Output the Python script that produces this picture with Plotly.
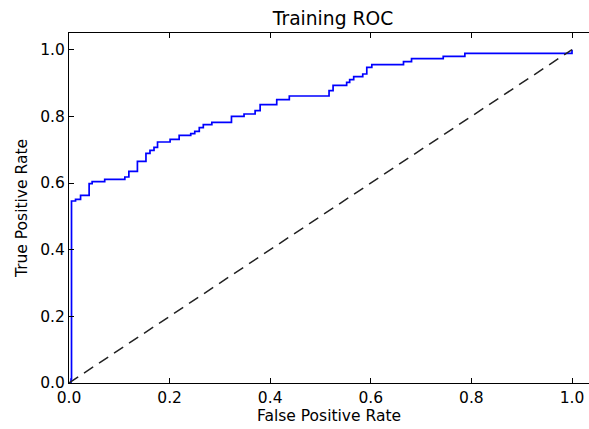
import plotly.graph_objects as go

# ROC curve (step points)
fpr = [0.0, 0.004, 0.005, 0.013, 0.023, 0.040, 0.046, 0.071, 0.111, 0.119, 0.136,
       0.153, 0.161, 0.169, 0.176, 0.201, 0.219, 0.242, 0.250, 0.259, 0.267,
       0.284, 0.323, 0.348, 0.370, 0.380, 0.413, 0.438, 0.517, 0.525, 0.552,
       0.558, 0.566, 0.584, 0.592, 0.602, 0.665, 0.681, 0.744, 0.787, 1.0]
tpr = [0.0, 0.012, 0.546, 0.551, 0.563, 0.598, 0.604, 0.611, 0.618, 0.635, 0.665,
       0.689, 0.698, 0.707, 0.723, 0.731, 0.743, 0.748, 0.755, 0.766, 0.775,
       0.782, 0.800, 0.807, 0.817, 0.835, 0.850, 0.861, 0.877, 0.893, 0.902,
       0.910, 0.919, 0.927, 0.947, 0.955, 0.964, 0.973, 0.980, 0.989, 1.0]

chance_x = [0.0, 1.0]
chance_y = [0.0, 1.0]

tick_vals = [0.0, 0.2, 0.4, 0.6, 0.8, 1.0]
tick_text = ["0.0", "0.2", "0.4", "0.6", "0.8", "1.0"]

W, H = 589, 429
L, T, B = 69, 33, 46

fig = go.Figure()
fig.add_trace(go.Scatter(x=fpr, y=tpr, mode="lines", line_shape="hv",
                         line=dict(color="#0000ff", width=1.7), showlegend=False))
fig.add_trace(go.Scatter(x=chance_x, y=chance_y, mode="lines",
                         line=dict(color="#222222", width=1.5, dash="11px,7px"),
                         showlegend=False))

font = "DejaVu Sans"
fig.update_layout(
    width=W, height=H,
    margin=dict(l=L, r=0, t=T, b=B, autoexpand=False),
    paper_bgcolor="white", plot_bgcolor="white",
    font=dict(family=font, size=15.5, color="black"),
    title=dict(text="Training ROC", x=333 / W, xanchor="center", xref="container",
               y=1 - 18 / H, yanchor="middle", yref="container", automargin=False,
               font=dict(family=font, size=18.7, color="black")),
)

fig.update_xaxes(range=[0, (W - L) / 503.0], tickvals=tick_vals, ticktext=tick_text,
                 ticks="inside", ticklen=5, tickwidth=1, tickcolor="black",
                 showline=True, linecolor="black", linewidth=1.2, mirror="allticks",
                 showgrid=False, zeroline=False, automargin=False,
                 title=dict(text="False Positive Rate", standoff=2,
                            font=dict(family=font, size=15.5)))
fig.update_yaxes(range=[0, 1.05], tickvals=tick_vals, ticktext=tick_text,
                 ticks="inside", ticklen=5, tickwidth=1, tickcolor="black",
                 showline=True, linecolor="black", linewidth=1.2, mirror=False,
                 showgrid=False, zeroline=False, automargin=False,
                 title=dict(text="True Positive Rate", standoff=8,
                            font=dict(family=font, size=15.5)))

fig.write_html("out.html", config={"displayModeBar": False},
               post_script="document.body.style.margin='0';document.body.style.overflow='hidden';")
